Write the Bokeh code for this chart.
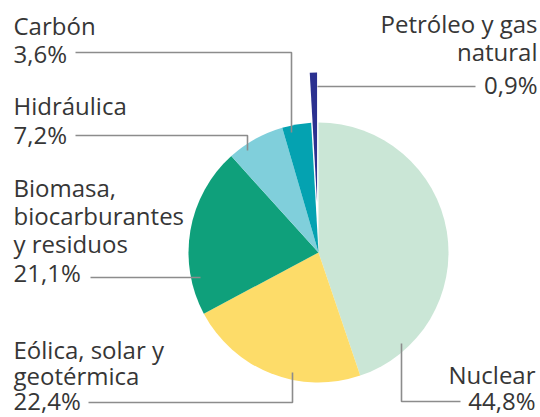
import math
from bokeh.plotting import figure
from bokeh.models import Range1d, ColumnDataSource
from bokeh.embed import file_html
from bokeh.resources import INLINE
from bokeh.core.properties import value

# ---- data ----
categories = ["Nuclear", "Eólica, solar y geotérmica", "Biomasa, biocarburantes y residuos",
              "Hidráulica", "Carbón", "Petróleo y gas natural"]
shares = [44.8, 22.4, 21.1, 7.2, 3.6, 0.9]
share_labels = ["44,8%", "22,4%", "21,1%", "7,2%", "3,6%", "0,9%"]
name_lines = [["Nuclear"], ["Eólica, solar y", "geotérmica"], ["Biomasa,", "biocarburantes", "y residuos"],
              ["Hidráulica"], ["Carbón"], ["Petróleo y gas", "natural"]]
colors = ["#cae6d6", "#fddc69", "#0fa07b", "#80cfdb", "#04a2b1", "#2b3190"]
exploded = [0, 0, 0, 0, 0, 1]

# ---- layout (pixel coordinates, y measured downward) ----
W, H = 540, 417
cx, cy, R = 318, 252, 130
explode_dist = 50
label_x = [535, 13, 13, 13, 13, 537]
label_align = ["right", "left", "left", "left", "left", "right"]
label_baselines = [[384, 410], [359, 385, 410], [197, 225, 253, 282], [115, 144], [35, 63], [33, 61, 94]]
baseline_shift = 10  # renderer places alphabetic baseline lower than requested
leaders = [
    [(460, 401), (401, 401), (401, 343)],
    [(88, 402), (292, 402), (292, 372)],
    [(90, 277), (200, 277)],
    [(75, 135), (247, 135), (247, 150)],
    [(75, 52), (291, 52), (291, 132)],
    [(475, 86), (317, 86)],
]

p = figure(width=W, height=H, output_backend="svg", toolbar_location=None,
           x_axis_type=None, y_axis_type=None, min_border=0,
           x_range=Range1d(0, W), y_range=Range1d(0, H))
p.outline_line_color = None
p.background_fill_color = "white"

# wedges
total = sum(shares)
cum = 0.0
wx, wy, sa, ea, wc = [], [], [], [], []
for s, c, ex in zip(shares, colors, exploded):
    a_end = math.pi / 2 - 2 * math.pi * cum / total
    cum += s
    a_start = math.pi / 2 - 2 * math.pi * cum / total
    mid = (a_start + a_end) / 2
    ox = explode_dist * math.cos(mid) if ex else 0.0
    oy = explode_dist * math.sin(mid) if ex else 0.0
    wx.append(cx + ox)
    wy.append(H - cy + oy)
    sa.append(a_start)
    ea.append(a_end)
    wc.append(c)
p.wedge(x="x", y="y", radius=R, start_angle="sa", end_angle="ea", color="c", line_color=None,
        source=ColumnDataSource(dict(x=wx, y=wy, sa=sa, ea=ea, c=wc)))

# leader lines
p.multi_line(xs=[[pt[0] for pt in L] for L in leaders],
             ys=[[H - pt[1] for pt in L] for L in leaders],
             line_color="#8c8c8c", line_width=1.6)

# labels
tx, ty, tt, ta = [], [], [], []
for lines, pct, x, al, bls in zip(name_lines, share_labels, label_x, label_align, label_baselines):
    for t, b in zip(lines + [pct], bls):
        tx.append(x)
        ty.append(H - (b - baseline_shift))
        tt.append(t)
        ta.append(al)
p.text(x="x", y="y", text="t", text_align="a", text_baseline="alphabetic",
       text_font=value("Open Sans"), text_font_size="24px", text_color="#363636",
       source=ColumnDataSource(dict(x=tx, y=ty, t=tt, a=ta)))

open("out.html", "w").write(file_html(p, INLINE))
